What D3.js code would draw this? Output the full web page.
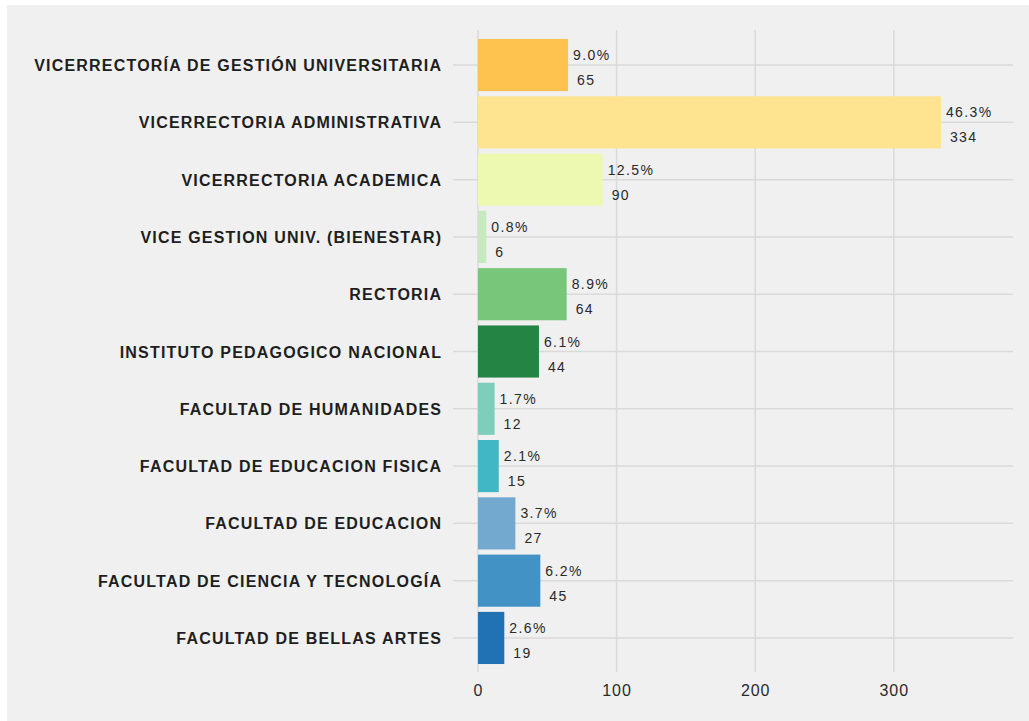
<!DOCTYPE html>
<html>
<head>
<meta charset="utf-8">
<script src="https://cdn.jsdelivr.net/npm/d3@7"></script>
<style>
  html, body { margin: 0; padding: 0; background: #ffffff; }
  svg { display: block; }
</style>
</head>
<body>
<svg id="chart" width="1029" height="721"></svg>
<script>
const categories = [
  "VICERRECTORÍA DE GESTIÓN UNIVERSITARIA",
  "VICERRECTORIA ADMINISTRATIVA",
  "VICERRECTORIA ACADEMICA",
  "VICE GESTION UNIV. (BIENESTAR)",
  "RECTORIA",
  "INSTITUTO PEDAGOGICO NACIONAL",
  "FACULTAD DE HUMANIDADES",
  "FACULTAD DE EDUCACION FISICA",
  "FACULTAD DE EDUCACION",
  "FACULTAD DE CIENCIA Y TECNOLOGÍA",
  "FACULTAD DE BELLAS ARTES"
];
const counts = [65, 334, 90, 6, 64, 44, 12, 15, 27, 45, 19];
const percents = ["9.0%", "46.3%", "12.5%", "0.8%", "8.9%", "6.1%", "1.7%", "2.1%", "3.7%", "6.2%", "2.6%"];
const colors = ["#fec24e", "#fee391", "#edf8b1", "#c7e9c0", "#78c679", "#238443",
                "#7fcdbb", "#41b6c4", "#74a9cf", "#4292c6", "#2171b5"];
const xTicks = [0, 100, 200, 300];

const svg = d3.select("#chart");
svg.append("rect").attr("x", 7).attr("y", 5).attr("width", 1022).attr("height", 716).attr("fill", "#f0f0f0");

const x = d3.scaleLinear().domain([-18, 386]).range([453, 1013]);
const y = d3.scaleBand().domain(categories).range([36.4, 666.6]).paddingInner(0.09).paddingOuter(0.045);

const grid = svg.append("g");
grid.selectAll("line.v").data(xTicks).join("line")
  .attr("x1", d => x(d)).attr("x2", d => x(d))
  .attr("y1", 30).attr("y2", 672)
  .attr("stroke", "#dadada").attr("stroke-width", 1.5);
grid.selectAll("line.h").data(categories).join("line")
  .attr("x1", 453).attr("x2", 1013)
  .attr("y1", d => y(d) + y.bandwidth() / 2).attr("y2", d => y(d) + y.bandwidth() / 2)
  .attr("stroke", "#dadada").attr("stroke-width", 1.5);

const data = categories.map((c, i) => ({ c, v: counts[i], p: percents[i], col: colors[i] }));

svg.append("g").selectAll("rect").data(data).join("rect")
  .attr("x", x(0)).attr("y", d => y(d.c))
  .attr("width", d => x(d.v) - x(0)).attr("height", y.bandwidth())
  .attr("fill", d => d.col);

const font = "Liberation Sans, Arial, sans-serif";
const lab = svg.append("g").attr("font-family", font)
  .attr("font-size", 14).attr("letter-spacing", "1.4px").attr("fill", "#2a2a2a");
lab.selectAll("text.p").data(data).join("text")
  .attr("x", d => x(d.v) + 5).attr("y", d => y(d.c) + y.bandwidth() / 2 - 5)
  .text(d => d.p);
lab.selectAll("text.n").data(data).join("text")
  .attr("x", d => x(d.v) + 9).attr("y", d => y(d.c) + y.bandwidth() / 2 + 20)
  .text(d => d.v);

const lsCat = 1.2;
svg.append("g").selectAll("text").data(categories).join("text")
  .attr("x", 441 + lsCat).attr("y", d => y(d) + y.bandwidth() / 2 + 6)
  .attr("text-anchor", "end")
  .attr("font-family", font)
  .attr("font-size", 16).attr("font-weight", "bold").attr("letter-spacing", lsCat + "px").attr("fill", "#1e1e1e")
  .text(d => d);

const lsTick = 0.9;
svg.append("g").selectAll("text").data(xTicks).join("text")
  .attr("x", d => x(d) + lsTick / 2).attr("y", 696)
  .attr("text-anchor", "middle")
  .attr("font-family", font)
  .attr("font-size", 16).attr("letter-spacing", lsTick + "px").attr("fill", "#2a2a2a")
  .text(d => d);
</script>
</body>
</html>
